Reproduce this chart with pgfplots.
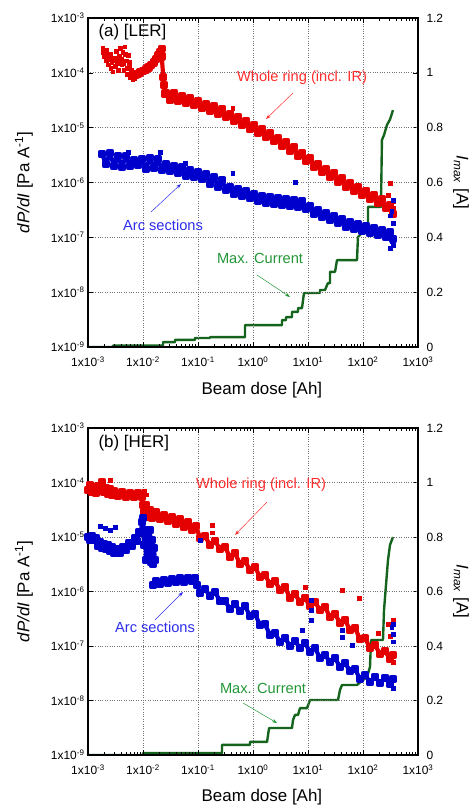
\documentclass[border=0pt]{standalone}
\usepackage{fontspec}
\setmainfont{Liberation Sans}
\usepackage{pgfplots}
\pgfplotsset{compat=1.18}
\usetikzlibrary{arrows.meta}
\definecolor{dred}{RGB}{228,0,0}
\definecolor{dblue}{RGB}{0,0,205}
\definecolor{dgreen}{RGB}{20,100,30}
\definecolor{tred}{RGB}{255,45,45}
\definecolor{tblue}{RGB}{45,45,235}
\definecolor{tgreen}{RGB}{35,150,55}
\tikzset{
  myBand/.style={line width=4.2pt, line join=round, line cap=round, mark=square*, mark size=2.1pt},
  myDots/.style={mark=square*, mark size=1.8pt},
  myStep/.style={dgreen, line width=2.4pt, line join=round},
}
\begin{document}
\begin{tikzpicture}
\path[use as bounding box] (0,0) rectangle (475bp,808bp);
% ================= panel (a) LER =================
\begin{axis}[at={(88bp,461bp)}, anchor=south west, scale only axis, width=330bp, height=329bp,
    xmode=log, xmin=1e-3, xmax=1e3, ymin=0, ymax=1.2,
    axis x line=none, axis y line*=right,
    tick align=inside, major tick length=5bp,
    tick style={black, line width=0.6pt},
    tick label style={font=\fontsize{12}{14}\selectfont},
    yticklabel style={xshift=5bp},
    axis line style={line width=1.1pt},
    ytick={0,0.2,0.4,0.6,0.8,1,1.2}, yticklabels={0,0.2,0.4,0.6,0.8,1,1.2},
    ylabel={\textit{I}\textsubscript{\textit{max}} [A]},
    ylabel style={font=\fontsize{17}{20}\selectfont, at={(axis description cs:1.13,0.5)}, anchor=center, rotate=180}]
\addplot[myStep, mark=none] coordinates {(1e-3,0) (2.85e-3,0) (2.85e-3,0.005) (2.31e-2,0.005) (2.31e-2,0.018) (3.82e-2,0.018) (3.82e-2,0.026) (8.8e-2,0.026) (8.8e-2,0.033) (0.165,0.033) (0.165,0.036) (0.716,0.036) (0.716,0.080) (3.37,0.080) (3.37,0.098) (3.98,0.098) (3.98,0.109) (5.12,0.109) (5.12,0.128) (6.58,0.128) (6.58,0.142) (7.78,0.142) (8.45,0.197) (16.5,0.197) (16.5,0.208) (20.4,0.208) (23.0,0.233) (25.1,0.233) (25.1,0.274) (31.0,0.274) (33.7,0.317) (77.8,0.317) (81,0.401) (95.9,0.416) (123,0.416) (123,0.511) (212,0.511) (221,0.755) (241,0.773) (273,0.81) (310,0.83) (351,0.864)};
\end{axis}
\begin{axis}[at={(88bp,461bp)}, anchor=south west, scale only axis, width=330bp, height=329bp,
    xmode=log, ymode=log, xmin=1e-3, xmax=1e3, ymin=1e-9, ymax=1e-3,
    tick align=inside, major tick length=5bp, minor tick length=3bp,
    tick style={black, line width=0.6pt},
    tick label style={font=\fontsize{12}{14}\selectfont},
    xticklabel style={yshift=-6bp},
    axis line style={line width=1.1pt},
    xtick={1e-3,1e-2,1e-1,1,10,100,1000},
    xticklabels={1x10\textsuperscript{-3},1x10\textsuperscript{-2},1x10\textsuperscript{-1},1x10\textsuperscript{0},1x10\textsuperscript{1},1x10\textsuperscript{2},1x10\textsuperscript{3}},
    ytick={1e-9,1e-8,1e-7,1e-6,1e-5,1e-4,1e-3},
    yticklabels={1x10\textsuperscript{-9},1x10\textsuperscript{-8},1x10\textsuperscript{-7},1x10\textsuperscript{-6},1x10\textsuperscript{-5},1x10\textsuperscript{-4},1x10\textsuperscript{-3}},
    ytick pos=left, xtick pos=both, grid=major,
    major grid style={dotted, black!55, line width=0.7pt},
    minor y tick style={draw=none},
    xlabel={Beam dose [Ah]},
    ylabel={\textit{dP/dI} [Pa A\textsuperscript{-1}]},
    xlabel style={font=\fontsize{17}{20}\selectfont, at={(axis description cs:0.527,-0.13)}, anchor=center},
    ylabel style={font=\fontsize{17}{20}\selectfont, at={(axis description cs:-0.194,0.5)}, anchor=center}]
\addplot[only marks, myDots, dred] coordinates {(1.86e-3,2.82e-4) (1.95e-3,2.0e-4) (2.04e-3,2.4e-4) (2.14e-3,1.66e-4) (2.24e-3,2.09e-4) (2.34e-3,1.41e-4) (2.45e-3,1.78e-4) (2.57e-3,1.2e-4) (2.69e-3,1.58e-4) (2.82e-3,1.05e-4) (2.95e-3,1.9e-4) (3.09e-3,1.32e-4) (3.24e-3,2.51e-4) (3.39e-3,1.51e-4) (3.55e-3,1.12e-4) (3.72e-3,2.0e-4) (3.89e-3,2.82e-4) (4.07e-3,1.41e-4) (4.27e-3,2.4e-4) (4.47e-3,1.12e-4) (4.68e-3,3.02e-4) (4.9e-3,1.66e-4) (5.13e-3,9.5e-5) (5.37e-3,2.09e-4) (5.62e-3,1.32e-4) (5.89e-3,8.3e-5) (6.17e-3,1.12e-4) (6.46e-3,7.6e-5) (6.76e-3,8.9e-5) (1.9e-3,2.4e-4) (2.2e-3,2.6e-4) (2.6e-3,2.2e-4) (3.0e-3,1.7e-4) (3.3e-3,1.9e-4) (3.6e-3,1.6e-4) (4.0e-3,1.8e-4) (4.4e-3,1.5e-4) (4.8e-3,2.2e-4) (5.2e-3,1.2e-4) (5.6e-3,1.6e-4) (6.0e-3,1.0e-4) (6.5e-3,9.5e-5) (7.0e-3,8.0e-5)};
\addplot[myBand, dred] coordinates {(7.41e-3,9.3e-5) (8.13e-3,9.5e-5) (8.91e-3,1.02e-4) (1.0e-2,1.07e-4) (1.12e-2,1.15e-4) (1.26e-2,1.26e-4) (1.41e-2,1.38e-4) (1.58e-2,1.55e-4) (1.74e-2,1.78e-4) (1.91e-2,2.09e-4) (2.04e-2,2.4e-4) (2.19e-2,2.75e-4) (2.19e-2,2.0e-4) (2.34e-2,8.3e-5) (2.4e-2,6.0e-5) (2.51e-2,4.17e-5) (2.62e-2,4.29e-5) (3.10e-2,3.19e-5) (3.66e-2,4.29e-5) (4.33e-2,3.06e-5) (5.12e-2,3.78e-5) (6.05e-2,2.82e-5) (7.16e-2,3.48e-5) (8.46e-2,2.59e-5) (0.1,3.06e-5) (0.118,2.29e-5) (0.140,2.70e-5) (0.165,2.01e-5) (0.195,2.48e-5) (0.231,1.77e-5) (0.273,2.19e-5) (0.323,1.56e-5) (0.382,1.77e-5) (0.452,1.32e-5) (0.534,1.56e-5) (0.631,1.12e-5) (0.746,1.32e-5) (0.882,9.46e-6) (1.04,1.12e-5) (1.23,8.0e-6) (1.46,9.46e-6) (1.72,6.76e-6) (2.04,8.0e-6) (2.41,5.71e-6) (2.85,6.47e-6) (3.37,4.63e-6) (3.98,5.47e-6) (4.71,3.75e-6) (5.56,4.44e-6) (6.58,3.04e-6) (7.78,3.45e-6) (9.2,2.47e-6) (10.9,2.80e-6) (12.9,1.92e-6) (15.2,2.17e-6) (18.0,1.55e-6) (21.2,1.76e-6) (25.1,1.26e-6) (29.7,1.49e-6) (35.1,1.02e-6) (41.5,1.21e-6) (49.1,8.28e-7) (58.1,9.8e-7) (68.6,7.0e-7) (81.1,8.28e-7) (95.9,5.92e-7) (113,7.0e-7) (134,5.0e-7) (158,5.92e-7) (187,4.23e-7) (221,5.0e-7) (262,3.43e-7) (310,3.88e-7) (351,2.66e-7)};
\addplot[only marks, myDots, dred] coordinates {(310,9.8e-7) (152,6.43e-7) (0.43,2.29e-5) (351,4.5e-7) (351,3.5e-7) (285,5.9e-7) (330,3.0e-7)};
\addplot[myBand, dblue] coordinates {(1.80e-3,3.31e-6) (2.12e-3,2.17e-6) (2.51e-3,3.45e-6) (2.97e-3,2.0e-6) (3.51e-3,3.04e-6) (4.15e-3,1.92e-6) (4.91e-3,3.04e-6) (5.81e-3,2.0e-6) (6.86e-3,2.57e-6) (8.11e-3,2.08e-6) (9.59e-3,2.68e-6) (1.13e-2,1.76e-6) (1.34e-2,2.80e-6) (1.58e-2,1.84e-6) (1.87e-2,2.68e-6) (2.21e-2,1.69e-6) (2.62e-2,2.17e-6) (3.10e-2,1.62e-6) (3.66e-2,2.0e-6) (4.33e-2,1.49e-6) (5.12e-2,1.92e-6) (6.05e-2,1.31e-6) (7.16e-2,1.69e-6) (8.46e-2,1.26e-6) (0.1,1.55e-6) (0.118,1.16e-6) (0.140,1.43e-6) (0.165,9.38e-7) (0.195,1.26e-6) (0.231,8.28e-7) (0.273,1.11e-6) (0.323,7.29e-7) (0.382,8.28e-7) (0.452,6.17e-7) (0.534,7.60e-7) (0.631,5.68e-7) (0.746,7.0e-7) (0.882,5.21e-7) (1.04,6.17e-7) (1.23,4.59e-7) (1.46,5.68e-7) (1.72,4.23e-7) (2.04,5.43e-7) (2.41,4.06e-7) (2.85,5.21e-7) (3.37,3.88e-7) (3.98,5.0e-7) (4.71,3.72e-7) (5.56,4.80e-7) (6.58,3.57e-7) (7.78,4.59e-7) (9.2,3.29e-7) (10.9,3.72e-7) (12.9,2.66e-7) (15.2,3.15e-7) (18.0,2.35e-7) (21.2,2.78e-7) (25.1,2.07e-7) (29.7,2.45e-7) (35.1,1.82e-7) (41.5,2.16e-7) (49.1,1.54e-7) (58.1,1.90e-7) (68.6,1.42e-7) (81.1,1.75e-7) (95.9,1.30e-7) (113,1.61e-7) (134,1.20e-7) (158,1.48e-7) (187,1.10e-7) (221,1.36e-7) (262,1.01e-7) (310,1.25e-7) (351,9.3e-8)};
\addplot[only marks, myDots, dblue] coordinates {(2.04e-2,3.6e-6) (5.34e-3,3.6e-6) (5.8e-2,2.27e-6) (0.43,1.49e-6) (5.8,1.02e-6) (351,4.8e-7) (351,7.2e-8) (310,6.4e-8) (330,3.0e-7) (310,2.5e-7) (351,1.8e-7) (330,8.5e-8)};
\end{axis}
% ================= panel (b) HER =================
\begin{axis}[at={(88bp,53bp)}, anchor=south west, scale only axis, width=330bp, height=327bp,
    xmode=log, xmin=1e-3, xmax=1e3, ymin=0, ymax=1.2,
    axis x line=none, axis y line*=right,
    tick align=inside, major tick length=5bp,
    tick style={black, line width=0.6pt},
    tick label style={font=\fontsize{12}{14}\selectfont},
    yticklabel style={xshift=5bp},
    axis line style={line width=1.1pt},
    ytick={0,0.2,0.4,0.6,0.8,1,1.2}, yticklabels={0,0.2,0.4,0.6,0.8,1,1.2},
    ylabel={\textit{I}\textsubscript{\textit{max}} [A]},
    ylabel style={font=\fontsize{17}{20}\selectfont, at={(axis description cs:1.13,0.5)}, anchor=center, rotate=180}]
\addplot[myStep, mark=none] coordinates {(1e-3,0) (1e-2,0) (1e-2,0.007) (0.273,0.007) (0.273,0.037) (0.88,0.037) (0.88,0.048) (1.80,0.048) (1.96,0.099) (5.12,0.099) (5.33,0.128) (5.8,0.147) (6.58,0.147) (7.16,0.172) (9.59,0.172) (10.9,0.202) (35.1,0.202) (38.2,0.239) (41.5,0.257) (77.8,0.257) (100,0.275) (118,0.286) (134,0.323) (140,0.422) (231,0.422) (241,0.532) (262,0.624) (285,0.716) (310,0.771) (351,0.80)};
\end{axis}
\begin{axis}[at={(88bp,53bp)}, anchor=south west, scale only axis, width=330bp, height=327bp,
    xmode=log, ymode=log, xmin=1e-3, xmax=1e3, ymin=1e-9, ymax=1e-3,
    tick align=inside, major tick length=5bp, minor tick length=3bp,
    tick style={black, line width=0.6pt},
    tick label style={font=\fontsize{12}{14}\selectfont},
    xticklabel style={yshift=-6bp},
    axis line style={line width=1.1pt},
    xtick={1e-3,1e-2,1e-1,1,10,100,1000},
    xticklabels={1x10\textsuperscript{-3},1x10\textsuperscript{-2},1x10\textsuperscript{-1},1x10\textsuperscript{0},1x10\textsuperscript{1},1x10\textsuperscript{2},1x10\textsuperscript{3}},
    ytick={1e-9,1e-8,1e-7,1e-6,1e-5,1e-4,1e-3},
    yticklabels={1x10\textsuperscript{-9},1x10\textsuperscript{-8},1x10\textsuperscript{-7},1x10\textsuperscript{-6},1x10\textsuperscript{-5},1x10\textsuperscript{-4},1x10\textsuperscript{-3}},
    ytick pos=left, xtick pos=both, grid=major,
    major grid style={dotted, black!55, line width=0.7pt},
    minor y tick style={draw=none},
    xlabel={Beam dose [Ah]},
    ylabel={\textit{dP/dI} [Pa A\textsuperscript{-1}]},
    xlabel style={font=\fontsize{17}{20}\selectfont, at={(axis description cs:0.527,-0.13)}, anchor=center},
    ylabel style={font=\fontsize{17}{20}\selectfont, at={(axis description cs:-0.194,0.5)}, anchor=center}]
\addplot[myBand, dred] coordinates {(1e-3,7.28e-5) (1.09e-3,9.0e-5) (1.18e-3,6.69e-5) (1.29e-3,8.27e-5) (1.40e-3,6.41e-5) (1.52e-3,8.63e-5) (1.65e-3,6.98e-5) (1.80e-3,1.02e-4) (1.95e-3,6.69e-5) (2.12e-3,7.92e-5) (2.31e-3,6.15e-5) (2.51e-3,7.60e-5) (2.73e-3,5.90e-5) (2.97e-3,6.98e-5) (3.51e-3,5.65e-5) (4.15e-3,6.69e-5) (4.91e-3,5.42e-5) (5.81e-3,6.41e-5) (6.86e-3,5.42e-5) (8.11e-3,6.41e-5) (9.59e-3,5.42e-5) (1e-2,3.86e-5) (1.04e-2,2.88e-5) (1.13e-2,3.86e-5) (1.23e-2,2.33e-5) (1.34e-2,3.13e-5) (1.46e-2,2.23e-5) (1.72e-2,2.88e-5) (2.04e-2,2.14e-5) (2.41e-2,2.53e-5) (2.85e-2,1.96e-5) (3.37e-2,2.33e-5) (3.98e-2,1.73e-5) (4.71e-2,2.14e-5) (5.56e-2,1.52e-5) (6.58e-2,1.88e-5) (7.78e-2,1.34e-5) (9.2e-2,1.59e-5) (0.109,9.6e-6) (0.134,1.04e-5) (0.165,7.13e-6) (0.204,8.45e-6) (0.251,6.02e-6) (0.31,6.55e-6) (0.382,4.30e-6) (0.471,5.08e-6) (0.58,3.19e-6) (0.716,3.63e-6) (0.88,2.48e-6) (1.09,2.81e-6) (1.34,1.85e-6) (1.65,2.01e-6) (2.04,1.37e-6) (2.51,1.56e-6) (3.1,1.06e-6) (3.82,1.21e-6) (4.71,7.60e-7) (5.8,9.0e-7) (7.16,6.41e-7) (8.8,7.60e-7) (10.9,5.42e-7) (13.4,6.41e-7) (16.5,4.57e-7) (20.4,5.19e-7) (25.1,3.40e-7) (31,3.86e-7) (38.2,2.64e-7) (47.1,3.0e-7) (58,1.96e-7) (71.6,2.14e-7) (88,1.34e-7) (109,1.40e-7) (134,9.19e-8) (165,1.04e-7) (204,7.13e-8) (251,8.09e-8) (310,5.77e-8) (351,6.84e-8)};
\addplot[only marks, myDots, dred] coordinates {(2.51e-3,1.11e-4) (1.05e-2,7.0e-5) (1.15e-2,6.0e-5) (0.180,1.66e-5) (0.180,1.2e-5) (8.8,1.21e-6) (41.5,1.06e-6) (84.6,7.6e-7) (187,1.7e-7) (285,2.5e-7) (310,1.5e-7) (351,3.0e-7) (351,1.2e-7) (351,5.08e-8)};
\addplot[myBand, dblue] coordinates {(1e-3,1.0e-5) (1.09e-3,8.81e-6) (1.18e-3,1.04e-5) (1.29e-3,8.81e-6) (1.40e-3,9.6e-6) (1.52e-3,6.84e-6) (1.65e-3,8.09e-6) (1.80e-3,6.28e-6) (1.95e-3,7.44e-6) (2.12e-3,6.02e-6) (2.31e-3,7.13e-6) (2.51e-3,5.53e-6) (2.73e-3,6.55e-6) (2.97e-3,5.08e-6) (3.37e-3,6.02e-6) (3.82e-3,5.08e-6) (4.33e-3,6.55e-6) (4.91e-3,5.77e-6) (5.56e-3,7.76e-6) (6.31e-3,6.84e-6) (7.16e-3,9.6e-6) (7.78e-3,8.45e-6) (8.45e-3,1.24e-5) (9.2e-3,1.18e-5) (9.59e-3,1.88e-5) (1e-2,2.23e-5) (1.04e-2,7.13e-6) (1.09e-2,1.34e-5) (1.13e-2,3.78e-6) (1.18e-2,1.09e-5) (1.23e-2,4.67e-6) (1.34e-2,1.34e-5) (1.40e-2,3.48e-6) (1.46e-2,8.81e-6) (1.52e-2,3.19e-6) (1.58e-2,6.28e-6) (1.65e-2,3.78e-6)};
\addplot[myBand, dblue] coordinates {(1.52e-2,1.32e-6) (1.72e-2,1.56e-6) (2.04e-2,1.37e-6) (2.41e-2,1.63e-6) (2.85e-2,1.43e-6) (3.37e-2,1.70e-6) (3.98e-2,1.49e-6) (4.71e-2,1.77e-6) (5.56e-2,1.49e-6) (6.58e-2,1.77e-6) (7.78e-2,1.56e-6) (8.8e-2,1.77e-6) (9.59e-2,1.32e-6) (0.109,9.38e-7) (0.134,1.11e-6) (0.165,8.27e-7) (0.204,9.8e-7) (0.251,6.69e-7) (0.31,6.69e-7) (0.382,4.77e-7) (0.471,5.90e-7) (0.58,4.39e-7) (0.716,5.42e-7) (0.88,3.55e-7) (1.09,3.86e-7) (1.34,2.43e-7) (1.65,2.53e-7) (2.04,1.59e-7) (2.51,1.73e-7) (3.1,1.18e-7) (3.82,1.40e-7) (4.71,1.0e-7) (5.8,1.24e-7) (7.16,9.19e-8) (8.8,1.14e-7) (10.9,7.76e-8) (13.4,9.19e-8) (16.5,6.02e-8) (20.4,6.84e-8) (25.1,5.08e-8) (31,6.02e-8) (38.2,4.12e-8) (47.1,4.88e-8) (58,3.48e-8) (71.6,3.78e-8) (88,2.48e-8) (109,2.94e-8) (134,2.18e-8) (165,2.70e-8) (204,2.09e-8) (251,2.59e-8) (310,2.01e-8) (351,2.48e-8)};
\addplot[only marks, myDots, dblue] coordinates {(1.65e-3,1.59e-5) (2.04e-3,1.46e-5) (2.51e-3,1.34e-5) (3.1e-3,1.52e-5) (0.109,8.8e-6) (11.3,6.98e-7) (11.3,4.57e-7) (11.3,3.0e-7) (41.5,1.96e-7) (41.5,1.46e-7) (63.1,1.04e-7) (7.78,1.96e-7) (351,2.53e-7) (351,1.66e-7) (330,2.2e-7) (351,1.2e-7) (351,1.69e-8)};
\end{axis}
% ================= annotations =================
\begin{scope}[font=\fontsize{17}{20}\selectfont]
\node[anchor=west] at (95bp,776bp) {(a) [LER]};
\node[anchor=west] at (95bp,365bp) {(b) [HER]};
\end{scope}
\begin{scope}[font=\fontsize{14.7}{17}\selectfont]
\node[tred] at (302bp,730bp) {Whole ring (incl. IR)};
\draw[tred, line width=0.5pt, -{Stealth[length=5bp,width=3.5bp]}] (293bp,715bp) -- (266bp,689bp);
\node[tblue] at (163bp,583bp) {Arc sections};
\draw[tblue, line width=0.5pt, -{Stealth[length=5bp,width=3.5bp]}] (151bp,596bp) -- (181bp,624bp);
\node[tgreen] at (260bp,550bp) {Max. Current};
\draw[tgreen, line width=0.5pt, -{Stealth[length=5bp,width=3.5bp]}] (257bp,533bp) -- (290bp,511bp);
\node[tred] at (261bp,323bp) {Whole ring (incl. IR)};
\draw[tred, line width=0.5pt, -{Stealth[length=5bp,width=3.5bp]}] (267bp,306bp) -- (235bp,273bp);
\node[tblue] at (155bp,181bp) {Arc sections};
\draw[tblue, line width=0.5pt, -{Stealth[length=5bp,width=3.5bp]}] (155bp,188bp) -- (183bp,216bp);
\node[tgreen] at (263bp,120bp) {Max. Current};
\draw[tgreen, line width=0.5pt, -{Stealth[length=5bp,width=3.5bp]}] (243bp,105bp) -- (277bp,85bp);
\end{scope}
\end{tikzpicture}
\end{document}
